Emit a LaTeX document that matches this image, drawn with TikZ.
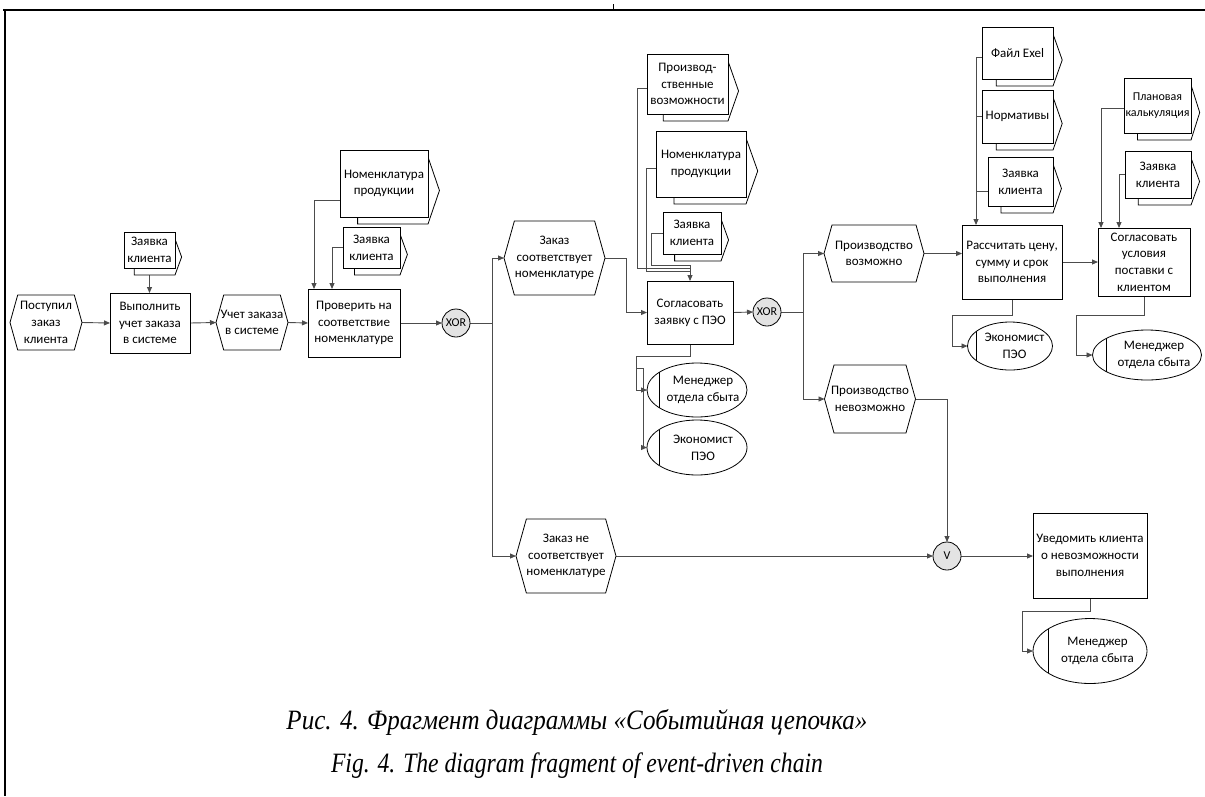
\documentclass[tikz,border=0pt]{standalone}
\usepackage{fontspec}
\usepackage{graphicx}
\setmainfont{Carlito}
\newfontfamily\capfont{Liberation Serif}
\usetikzlibrary{arrows.meta,calc,shapes.geometric}
\pgfdeclarelayer{bg}
\pgfsetlayers{bg,main}
\tikzset{
  txt/.style={align=center,font=\fontsize{13}{16.7}\selectfont,inner sep=0pt,outer sep=0pt},
  shapeline/.style={draw=black,line width=0.8pt},
  func/.style={txt,shapeline,fill=white},
  orgshape/.style={ellipse,shapeline,fill=white,inner sep=0pt,outer sep=0pt},
  gate/.style={circle,shapeline,fill=gray!22,minimum size=28pt,inner sep=0pt,outer sep=0pt,font=\fontsize{12}{13}\selectfont},
  conn/.style={draw=black!70,line width=0.9pt,-{Triangle[length=6pt,width=5pt]}},
  link/.style={draw=black!70,line width=0.9pt},
}
% event (hexagon): name, cx, cy, w, h, text
\newcommand\evnode[6]{%
  \pgfmathsetmacro\evHW{#4/2}\pgfmathsetmacro\evHH{#5/2}\pgfmathsetmacro\evIn{0.14*#5}%
  \filldraw[shapeline,fill=white] ({#2-\evHW},#3) -- ({#2-\evHW+\evIn},{#3-\evHH}) -- ({#2+\evHW-\evIn},{#3-\evHH}) -- ({#2+\evHW},#3) -- ({#2+\evHW-\evIn},{#3+\evHH}) -- ({#2-\evHW+\evIn},{#3+\evHH}) -- cycle;
  \node[txt,minimum width=#4,minimum height=#5] (#1) at (#2,#3) {#6};
}
% document: name, x1, y1, x2, y2, text
\newcommand\docnode[6]{%
  \pgfmathsetmacro\dcW{#4-#2}\pgfmathsetmacro\dcH{#5-#3}%
  \filldraw[shapeline,fill=white] ({#2+0.2*\dcW},{#3+7}) -- (#4,{#3+7}) -- ({#4+0.13*\dcW},{(#3+#5)/2+7}) -- (#4,{#5+7}) -- ({#2+0.2*\dcW},{#5+7}) -- cycle;
  \node[func,minimum width=\dcW,minimum height=\dcH] (#1) at ({(#2+#4)/2},{(#3+#5)/2}) {#6};
}
% organisational unit: name, cx, cy, w, h, d, text
\newcommand\orgnode[7]{%
  \node[orgshape,minimum width=#4,minimum height=#5] (#1) at (#2,#3) {};
  \pgfmathsetmacro\orA{#4/2}\pgfmathsetmacro\orB{#5/2}%
  \pgfmathsetmacro\orY{\orB*sqrt(1-((\orA-#6)/\orA)^2)}%
  \draw[shapeline] ({#2-\orA+#6},{#3-\orY}) -- ({#2-\orA+#6},{#3+\orY});
  \node[txt] (#1t) at ({#2+#6/2},#3) {#7};
}
\newcommand\smallfnt{\fontsize{12}{16.7}\selectfont}
\begin{document}
\begin{tikzpicture}[x=1pt,y=-1pt]
\useasboundingbox (0,0) rectangle (1205,796);
% frame
\draw[line width=2pt] (3,10) -- (1205,10);
\draw[line width=1.5pt] (5,10) -- (5,796);
\draw[line width=1pt] (613,4) -- (613,9);

% row 1
\evnode{E1}{46}{322.5}{72}{55}{Поступил\\заказ\\клиента}
\node[func,minimum width=80,minimum height=60] (F1) at (150,323) {Выполнить\\учет заказа\\в системе};
\docnode{D1}{124}{232}{175}{268}{Заявка\\клиента}
\evnode{E2}{252}{322.5}{72}{55}{Учет заказа\\в системе}
\node[func,minimum width=92,minimum height=68] (F2) at (354,323) {Проверить на\\соответствие\\номенклатуре};
\docnode{D2}{340}{150}{428}{217}{Номенклатура\\продукции}
\docnode{D3}{343}{227}{400}{268}{Заявка\\клиента}
\node[gate] (X1) at (456,323) {XOR};

\evnode{E3}{554.5}{258}{101}{74}{Заказ\\соответствует\\номенклатуре}
\evnode{E4}{566}{556}{100}{74}{Заказ не\\соответствует\\номенклатуре}

\node[func,minimum width=86,minimum height=63] (F3) at (690,312.5) {Согласовать\\заявку с ПЭО};
\docnode{D4}{647}{54}{728}{114}{Производ-\\ственные\\возможности}
\docnode{D5}{656}{131}{746}{197}{Номенклатура\\продукции}
\docnode{D6}{663}{212}{721}{254}{Заявка\\клиента}
\orgnode{O1}{697}{390}{100}{54}{12}{Менеджер\\отдела сбыта}
\orgnode{O2}{697}{447.5}{100}{55}{12}{Экономист\\ПЭО}
\node[gate] (X2) at (767,312) {XOR};

\evnode{E5}{874}{253.5}{100}{57}{Производство\\возможно}
\evnode{E6}{870}{399}{91}{68}{Производство\\невозможно}

\node[func,minimum width=100,minimum height=74] (F4) at (1012,262) {Рассчитать цену,\\сумму и срок\\выполнения};
\docnode{D7}{982}{27}{1053}{79}{Файл Exel}
\docnode{D8}{982}{90}{1053}{143}{Нормативы}
\docnode{D9}{988}{157}{1053}{206}{Заявка\\клиента}
\orgnode{O3}{1010}{346}{85}{48}{9}{Экономист\\ПЭО}

\node[func,minimum width=92,minimum height=68] (F5) at (1144,262) {Согласовать\\условия\\поставки с\\клиентом};
\docnode{D10}{1124}{78}{1191}{133}{{\smallfnt Плановая}\\{\smallfnt калькуляция}}
\docnode{D11}{1125}{151}{1191}{198}{Заявка\\клиента}
\orgnode{O4}{1147}{355}{109}{50}{14}{Менеджер\\отдела сбыта}

\node[gate] (V) at (947,556) {V};
\node[func,minimum width=114,minimum height=85] (F6) at (1090,555.5) {Уведомить клиента\\о невозможности\\выполнения};
\orgnode{O5}{1090}{651}{114}{65}{15}{Менеджер\\отдела сбыта}

\coordinate (J3) at (690,265);
\coordinate (B3) at (636,368);

% caption
\node (cap1) at (577,722) {\resizebox{581pt}{\height}{\capfont\itshape\fontsize{28}{32}\selectfont Рис. 4. Фрагмент диаграммы «Событийная цепочка»}};
\node (cap2) at (577,766) {\resizebox{492pt}{\height}{\capfont\itshape\fontsize{28}{32}\selectfont Fig. 4. The diagram fragment of event-driven chain}};

\begin{pgfonlayer}{bg}
\draw[conn] (E1.east) -- (F1.west);
\draw[conn] (F1.east) -- (E2.west);
\draw[conn] (E2.east) -- (F2.west);
\draw[conn] (D1.south) -- (D1.south |- F1.north);
\draw[conn] ($(D2.west)+(0,17)$) -| ([xshift=-40pt]F2.north);
\draw[conn] (D3.west) -| ([xshift=-22pt]F2.north);
\draw[conn] (F2.east) -- (X1.west);
\draw[conn] (X1.east) -- ++(22,0) |- (E3.west);
\draw[conn] (X1.east) -- ++(22,0) |- (E4.west);
\draw[conn] (E3.east) -- ++(21,0) |- (F3.west);
\draw[link] ($(D4.west)+(0,4)$) -| (637,268) -- (690,268);
\draw[link] ($(D5.west)+(0,4)$) -| (646,271) -- (690,271);
\draw[link] (D6.west) -| (651,265) -- (J3);
\draw[conn] (J3) -- (F3.north);
\draw[conn] (F3.south) -- ++(0,12) -| ($(O1.west)+(-11,0)$) -- (O1.west);
\draw[conn] (B3) -- ++(7,0) |- (O2.west);
\draw[conn] (F3.east) -- (X2.west);
\draw[conn] (X2.east) -- ++(22,0) |- (E5.west);
\draw[conn] (X2.east) -- ++(22,0) |- (E6.west);
\draw[conn] (E5.east) -- (E5.east -| F4.west);
\draw[conn] ($(D7.west)+(0,4)$) -| ([xshift=-36pt]F4.north);
\draw[link] (D8.west) -- ++(-6,0);
\draw[link] ($(D9.west)+(0,10)$) -- ++(-12,0);
\draw[conn] (F4.south) -- ++(0,16) -| ($(O3.west)+(-15,0)$) -- (O3.west);
\draw[conn] (F4.east) -- (F4.east -| F5.west);
\draw[conn] ($(D10.west)+(0,2.5)$) -| ([xshift=-43pt]F5.north);
\draw[conn] (D11.west) -| ([xshift=-25pt]F5.north);
\draw[conn] (F5.south) -- ++(0,19) -| ($(O4.west)+(-16.5,0)$) -- (O4.west);
\draw[conn] (E6.east) -| (V.north);
\draw[conn] (E4.east) -- (V.west);
\draw[conn] (V.east) -- (V.east -| F6.west);
\draw[conn] (F6.south) -- ++(0,13) -| ($(O5.west)+(-11,0)$) -- (O5.west);
\end{pgfonlayer}
\end{tikzpicture}
\end{document}
